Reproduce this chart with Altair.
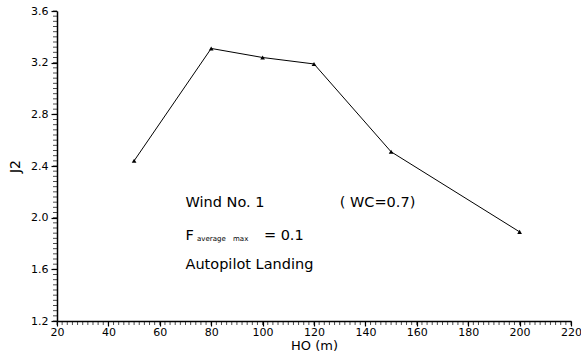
import altair as alt
import pandas as pd

# data
h0 = [50, 80, 100, 120, 150, 200]
j2 = [2.44, 3.31, 3.24, 3.19, 2.51, 1.89]

x_major = [20, 40, 60, 80, 100, 120, 140, 160, 180, 200, 220]
y_major = [1.2, 1.6, 2.0, 2.4, 2.8, 3.2, 3.6]
x_minor = [20 + 2 * i for i in range(101)]
y_minor = [round(1.2 + 0.04 * i, 2) for i in range(61)]

ann_text = ["Wind No. 1", "( WC=0.7)", "F", "= 0.1", "Autopilot Landing"]
ann_x = [70, 130, 70, 100.5, 70]
ann_y = [2.11, 2.11, 1.86, 1.86, 1.635]
sub_text = ["average", "max"]
sub_x = [74.5, 88.5]
sub_y = [1.835, 1.835]

FONT = "DejaVu Sans"

df = pd.DataFrame({"h0": h0, "j2": j2})
ann = pd.DataFrame({"t": ann_text, "x": ann_x, "y": ann_y})
sub = pd.DataFrame({"t": sub_text, "x": sub_x, "y": sub_y})
xm = pd.DataFrame({"x": x_minor})
ym = pd.DataFrame({"y": y_minor})

xs = alt.Scale(domain=[20, 220], nice=False, zero=False)
ys = alt.Scale(domain=[1.2, 3.6], nice=False, zero=False)

x_axis = alt.Axis(values=x_major, title="HO  (m)", format="d", tickSize=5, tickWidth=1.2,
                  labelFlush=False, labelOverlap=False, grid=False, labelPadding=0,
                  titlePadding=2, titleFontSize=13)
y_axis = alt.Axis(values=y_major, title="J2", format=".1f", tickSize=6, tickWidth=1.2,
                  labelOverlap=False, grid=False, labelPadding=3, titlePadding=8)

line = alt.Chart(df).mark_line(color="black", strokeWidth=1).encode(
    x=alt.X("h0:Q", scale=xs, axis=x_axis),
    y=alt.Y("j2:Q", scale=ys, axis=y_axis),
)
pts = alt.Chart(df).mark_point(shape="triangle-up", filled=True, color="black",
                               size=22, opacity=1).encode(x="h0:Q", y="j2:Q")

xt = alt.Chart(xm).mark_tick(orient="vertical", size=4, thickness=1, color="black",
                             yOffset=2).encode(x=alt.X("x:Q", scale=xs),
                                               y=alt.datum(1.2))
yt = alt.Chart(ym).mark_tick(orient="horizontal", size=4, thickness=1, color="black",
                             xOffset=-2).encode(y=alt.Y("y:Q", scale=ys),
                                                x=alt.datum(20))

txt = alt.Chart(ann).mark_text(align="left", baseline="middle", font=FONT, fontSize=14.5,
                               color="black").encode(x="x:Q", y="y:Q", text="t:N")
subt = alt.Chart(sub).mark_text(align="left", baseline="middle", font=FONT, fontSize=7,
                                color="black").encode(x="x:Q", y="y:Q", text="t:N")

chart = alt.layer(line, pts, xt, yt, txt, subt).properties(
    width=514, height=310,
    autosize=alt.AutoSizeParams(type="none"),
    padding={"left": 57, "top": 11, "right": 10, "bottom": 37},
    background="white",
).configure_view(stroke=None).configure_axis(
    domainColor="black", domainWidth=1.5, tickColor="black",
    labelFont=FONT, labelFontSize=11, labelColor="black",
    titleFont=FONT, titleFontSize=14, titleFontWeight="normal", titleColor="black",
)

chart.save("out.html", embed_options={"renderer": "svg", "actions": False})
